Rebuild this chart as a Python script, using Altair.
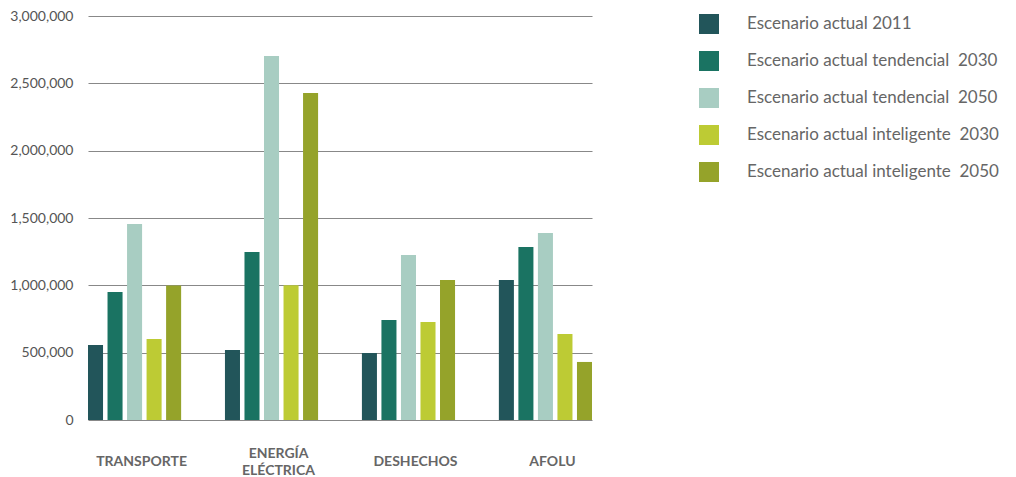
import altair as alt
import pandas as pd

categories = ["TRANSPORTE", "ENERGÍA ELÉCTRICA", "DESHECHOS", "AFOLU"]
series = [
    "Escenario actual 2011",
    "Escenario actual tendencial \u00a02030",
    "Escenario actual tendencial \u00a02050",
    "Escenario actual inteligente \u00a02030",
    "Escenario actual inteligente \u00a02050",
]
colors = ["#22555a", "#1a7362", "#a8cdc2", "#bdcb34", "#95a32a"]
values = {
    series[0]: [557000, 520000, 498000, 1040000],
    series[1]: [950000, 1248000, 743000, 1285000],
    series[2]: [1455000, 2703000, 1225000, 1389000],
    series[3]: [601000, 1000000, 728000, 639000],
    series[4]: [998000, 2428000, 1040000, 431000],
}

rows = []
for s in series:
    for c, v in zip(categories, values[s]):
        rows.append({"cat": c, "serie": s, "valor": v})
df = pd.DataFrame(rows)

font = "Lato"

chart = alt.Chart(df).mark_bar().encode(
    x=alt.X("cat:N", sort=categories, title=None,
            scale=alt.Scale(paddingInner=0.32, paddingOuter=0),
            axis=alt.Axis(labelAngle=0, ticks=False, domain=False,
                          labelExpr="split(datum.label, ' ')",
                          labelBaseline="middle",
                          labelPadding={"condition": {"test": "indexof(datum.value, ' ') >= 0", "value": 33},
                                        "value": 41},
                          labelLineHeight=17, labelOffset=7,
                          labelFont=font, labelFontSize=14, labelFontWeight="bold",
                          labelColor="#666666")),
    xOffset=alt.XOffset("serie:N", sort=series,
                        scale=alt.Scale(paddingInner=0.23, paddingOuter=0)),
    y=alt.Y("valor:Q", title=None,
            scale=alt.Scale(domain=[0, 3000000], nice=False),
            axis=alt.Axis(values=[0, 500000, 1000000, 1500000, 2000000, 2500000, 3000000],
                          format=",.0f", ticks=False, domain=False, labelPadding=15,
                          labelFont=font, labelFontSize=14, labelColor="#555555",
                          gridColor="#888888", gridWidth=1.2, gridOpacity=1)),
    color=alt.Color("serie:N", sort=series,
                    scale=alt.Scale(domain=series, range=colors),
                    legend=alt.Legend(title=None, orient="none", legendX=611, legendY=-2,
                                      symbolType="square", symbolSize=400,
                                      symbolStrokeWidth=0, symbolOpacity=1,
                                      labelFont=font, labelFontSize=17,
                                      labelColor="#666666", labelOffset=28,
                                      rowPadding=17, labelLimit=400)),
).properties(
    width=504, height=404,
    autosize=alt.AutoSizeParams(type="none"),
    padding={"left": 88, "top": 16, "right": 424, "bottom": 57},
).configure_view(stroke=None)

chart.save("out.html", embed_options={"renderer": "svg", "actions": False})
